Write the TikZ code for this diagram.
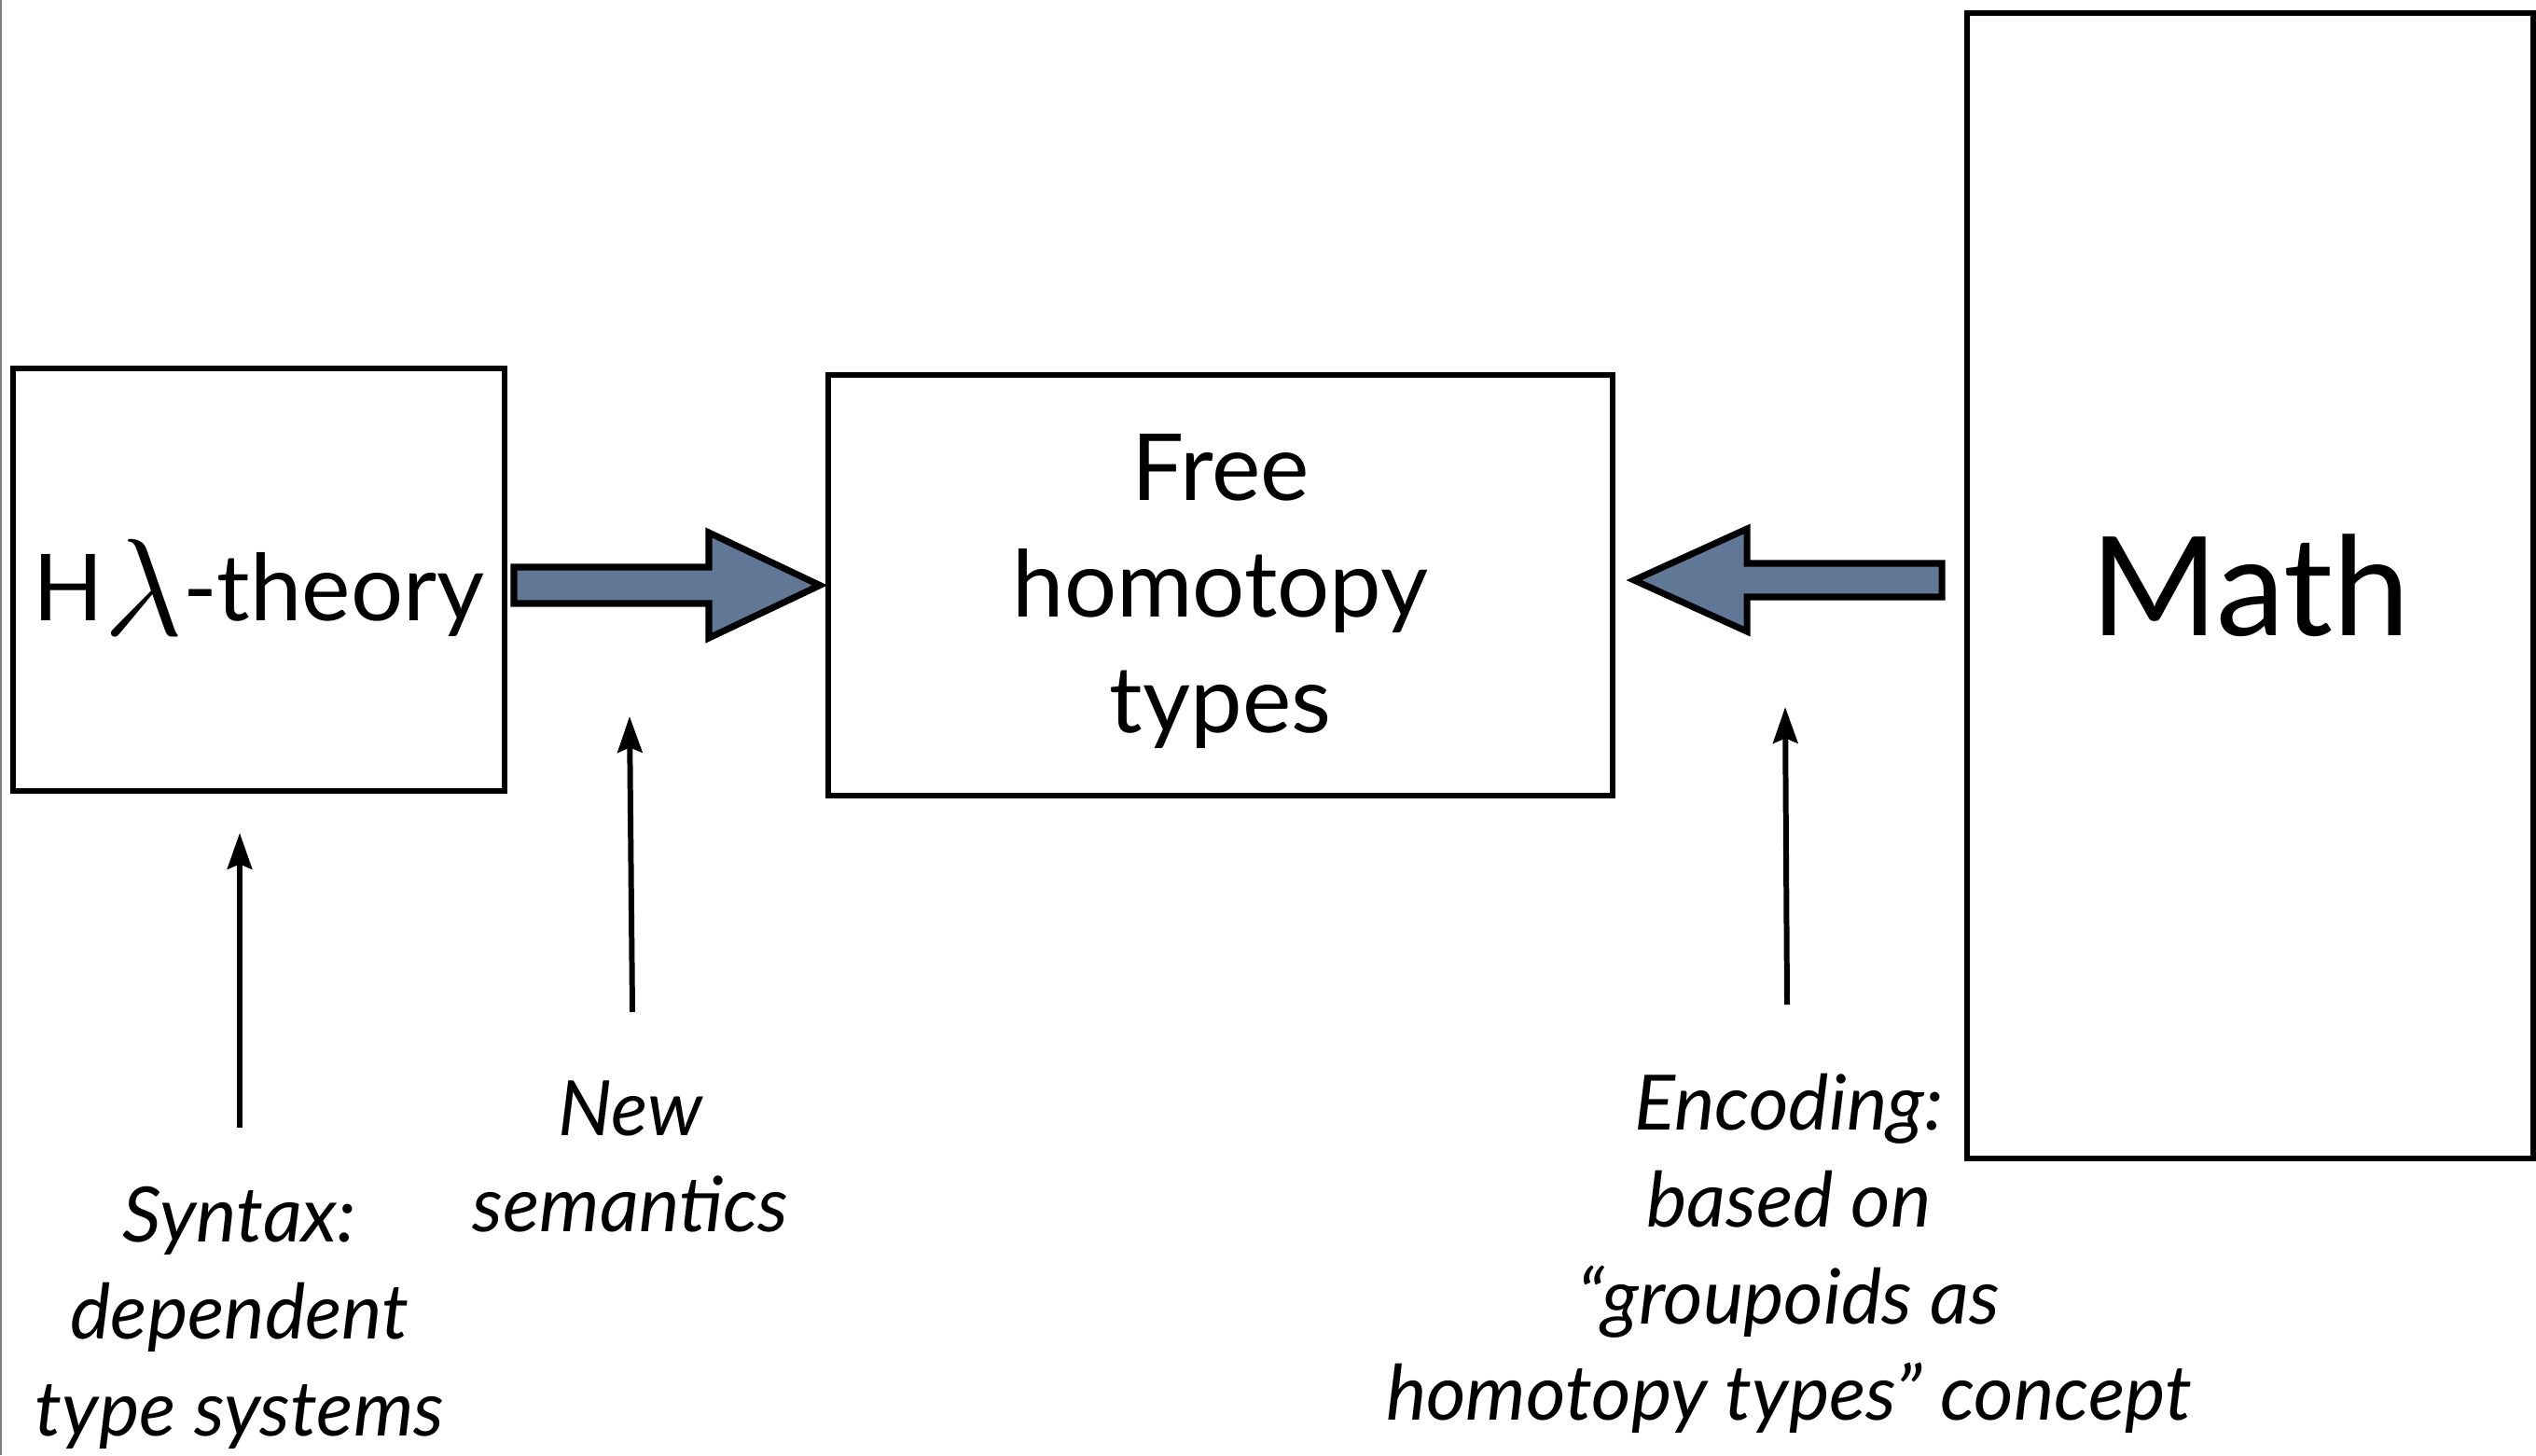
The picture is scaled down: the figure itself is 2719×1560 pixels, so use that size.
\documentclass[tikz,border=0pt]{standalone}
\usepackage{fontspec}
\setmainfont{Lato}
\usetikzlibrary{arrows.meta,calc}
\definecolor{slate}{RGB}{96,119,150}
\tikzset{
  box/.style={draw=black, line width=1.7pt, rectangle, inner sep=0pt, align=center},
  boxtext/.style={font=\fontsize{28.2}{35.5}\selectfont},
  lbl/.style={align=center, inner sep=0pt, font=\fontsize{23.3}{29.5}\selectfont\itshape},
  thinarrow/.style={line width=1.7pt, -{Stealth[length=11pt,width=7.5pt,inset=1.5pt]}},
  fatarrow/.style={draw=black, fill=slate, line width=2pt, line join=miter}
}
\begin{document}
\begin{tikzpicture}[x=0.01cm,y=-0.01cm]
\useasboundingbox (0,0) rectangle (2719,1560);
\draw[gray, line width=0.8pt] (1,0) -- (1,1560);

% boxes
\node[box, minimum width=5.27cm, minimum height=4.53cm] (ht) at (277.5,621.5) {};
\node[boxtext, inner sep=0pt] (httext) at (277.5,630)
  {H\raisebox{-0.16em}{\scalebox{1.7}{$\lambda$}}-theory};
\node[box, minimum width=8.41cm, minimum height=4.51cm] (free) at (1308.5,627.5) {};
\node[boxtext, align=center, inner sep=0pt] (freetext) at (1308.5,634)
  {Free\\homotopy\\types};
\node[box, font=\fontsize{42}{50}\selectfont, minimum width=6.07cm, minimum height=12.28cm] (math) at (2412.5,628)
  {Math};

% fat arrows
\draw[fatarrow] (551,608) -- (760,608) -- (760,571) -- (879,627.5) -- (760,684) -- (760,647) -- (551,647) -- cycle;
\draw[fatarrow] (2082,604) -- (1873,604) -- (1873,567) -- (1752,622) -- (1873,677) -- (1873,640) -- (2082,640) -- cycle;

% labels
\node[lbl] (syn) at (257,1413) {Syntax:\\dependent\\type systems};
\node[lbl] (sem) at (676,1240) {New\\semantics};
\node[lbl] (enc) at (1918,1344) {Encoding:\\based on\\``groupoids as\\homotopy types'' concept};

% thin arrows
\coordinate (s1) at (257,1209);
\coordinate (e1) at (257,893);
\coordinate (s2) at (678,1085);
\coordinate (e2) at (675,768);
\coordinate (s3) at (1916,1077);
\coordinate (e3) at (1914,758);
\draw[thinarrow] (s1) -- (e1);
\draw[thinarrow] (s2) -- (e2);
\draw[thinarrow] (s3) -- (e3);
\end{tikzpicture}
\end{document}
